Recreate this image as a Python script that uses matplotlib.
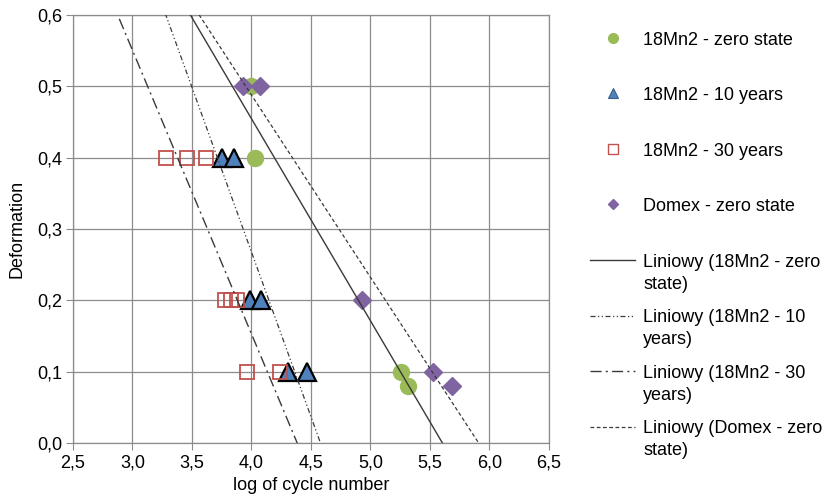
import numpy as np
import matplotlib.pyplot as plt
from matplotlib.lines import Line2D
from matplotlib.ticker import FuncFormatter

plt.rcParams['font.family'] = ['Liberation Sans', 'DejaVu Sans']

# Data: log of cycle number vs deformation
zero_x = [4.00, 4.03, 5.26, 5.32]
zero_y = [0.5, 0.4, 0.1, 0.08]

y10_x = [3.75, 3.85, 3.99, 4.08, 4.31, 4.47]
y10_y = [0.4, 0.4, 0.2, 0.2, 0.1, 0.1]

y30_x = [3.28, 3.46, 3.62, 3.78, 3.83, 3.88, 3.96, 4.24]
y30_y = [0.4, 0.4, 0.4, 0.2, 0.2, 0.2, 0.1, 0.1]

domex_x = [3.93, 4.07, 4.93, 5.53, 5.69]
domex_y = [0.5, 0.5, 0.2, 0.1, 0.08]

series_labels = ["18Mn2 - zero state", "18Mn2 - 10 years",
                 "18Mn2 - 30 years", "Domex - zero state"]
trend_labels = ["Liniowy (18Mn2 - zero\nstate)", "Liniowy (18Mn2 - 10\nyears)",
                "Liniowy (18Mn2 - 30\nyears)", "Liniowy (Domex - zero\nstate)"]

fig = plt.figure(figsize=(8.26, 5.04), dpi=100)
ax = fig.add_axes([0.0884, 0.121, 0.576, 0.849])

FS = 13
ms = 11.5
ax.plot(zero_x, zero_y, 'o', ms=ms, color='#9BBB59', mec='#9BBB59', zorder=3)
ax.plot(y10_x, y10_y, '^', ms=ms + 1, color='#4F81BD', mec='black', mew=1.6, zorder=3)
ax.plot(y30_x, y30_y, 's', ms=ms - 1, mfc='none', mec='#C0504D', mew=1.3, zorder=3)
ax.plot(domex_x, domex_y, 'D', ms=ms - 2, color='#8064A2', mec='#8064A2', zorder=3)

# linear trendlines (Excel "Liniowy")
xs = np.linspace(2.5, 6.5, 200)
styles = ['-', (0, (4, 2, 1, 2, 1, 2)), (0, (8, 3, 1.5, 3)), (0, (3, 2))]
widths = [1.0, 0.9, 1.0, 0.9]
trend_handles = []
for (x, y), ls, lw in zip([(zero_x, zero_y), (y10_x, y10_y), (y30_x, y30_y),
                           (domex_x, domex_y)], styles, widths):
    k, b = np.polyfit(x, y, 1)
    h, = ax.plot(xs, k * xs + b, ls=ls, lw=lw, color='#3a3a3a', zorder=4)
    trend_handles.append(h)

ax.set_xlim(2.5, 6.5)
ax.set_ylim(0, 0.6)
ax.set_xticks(np.arange(2.5, 6.51, 0.5))
ax.set_yticks(np.arange(0, 0.61, 0.1))
fmt = FuncFormatter(lambda v, p: f"{v:.1f}".replace('.', ','))
ax.xaxis.set_major_formatter(fmt)
ax.yaxis.set_major_formatter(fmt)
ax.grid(True, color='#8c8c8c', lw=0.9)
ax.set_axisbelow(True)
for s in ax.spines.values():
    s.set_color('#8c8c8c')
    s.set_linewidth(0.9)
ax.tick_params(labelsize=FS, color='#8c8c8c', length=5, pad=3)
ax.set_xlabel("log of cycle number", fontsize=FS, labelpad=4)
ax.set_ylabel("Deformation", fontsize=FS, labelpad=8)

# small legend markers like Excel
proxies = [
    Line2D([], [], ls='none', marker='o', ms=7, color='#9BBB59'),
    Line2D([], [], ls='none', marker='^', ms=7.5, color='#4F81BD', mec='#385D8A', mew=0.8),
    Line2D([], [], ls='none', marker='s', ms=6.5, mfc='none', mec='#C0504D', mew=1.0),
    Line2D([], [], ls='none', marker='D', ms=5.5, color='#8064A2'),
]
handles = proxies + trend_handles
labels = [l + "\n" for l in series_labels] + trend_labels
leg = ax.legend(handles, labels, loc='upper left', bbox_to_anchor=(590 / 826, 1 - 31.5 / 504),
                bbox_transform=fig.transFigure, frameon=False, fontsize=FS,
                handlelength=2.5, handletextpad=0.45,
                labelspacing=0.92, borderpad=0, borderaxespad=0)
for t in leg.get_texts():
    t.set_linespacing(1.38)
# align handles with the first text line
for row in leg._legend_handle_box.get_children()[0].get_children():
    row.align = "top"

fig.savefig("out.png", dpi=100)
